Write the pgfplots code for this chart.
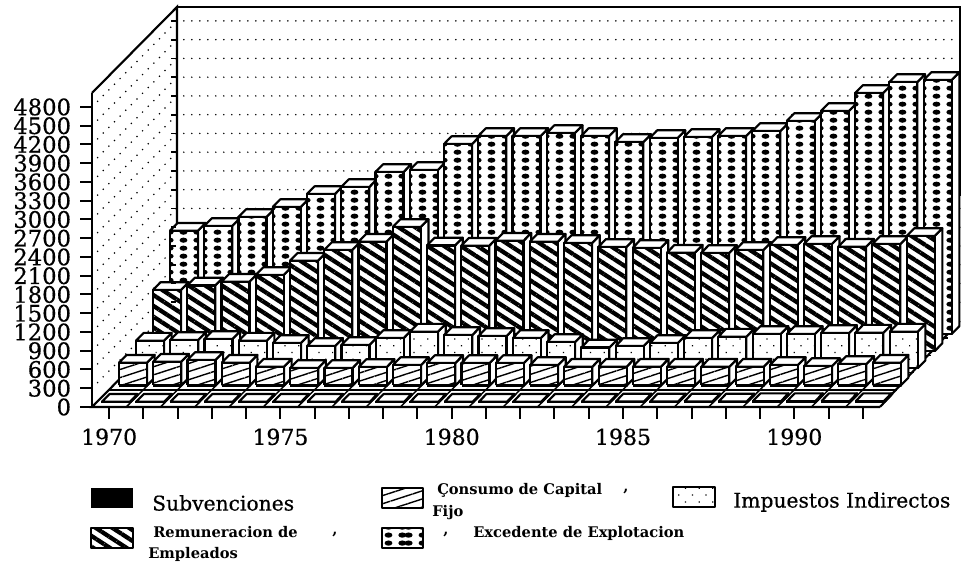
\documentclass[border=0pt]{standalone}
\usepackage{fontspec}
\usepackage{pgfplots}
\pgfplotsset{compat=1.18}
\usetikzlibrary{patterns,patterns.meta}
\newfontfamily\dser[FakeBold=0.5]{DejaVu Serif}
\setmainfont{DejaVu Serif}
% Excedente: three columns per bin, so every bar shows the same dots
\pgfdeclarepatternformonly{excedente}{\pgfqpoint{0pt}{0pt}}{\pgfqpoint{25.695pt}{6.2pt}}{\pgfqpoint{25.695pt}{6.2pt}}{%
  \foreach \cx in {-1.0,9.5,20.0,24.7}{%
    \pgfpathellipse{\pgfqpoint{\cx pt}{3.1pt}}{\pgfqpoint{3.0pt}{0pt}}{\pgfqpoint{0pt}{2.1pt}}\pgfusepath{fill}}%
}
\tikzset{
  fr/.style={fill=white,draw=black,line width=1.6pt,line join=round},
  frS/.style={fill=black,draw=black,line width=1.2pt},
  frC/.style={fr,postaction={pattern={Lines[angle=18,distance=5.8pt,line width=1.05pt]}}},
  frI/.style={fr,postaction={pattern={Dots[angle=45,distance=7.2pt,radius=0.65pt]}}},
  frR/.style={fr,postaction={pattern={Lines[angle=-33,distance=6.8pt,line width=3.2pt]}}},
  frE/.style={fr,postaction={pattern=excedente}},
  griddot/.style={black,line width=1.3pt,line cap=round,dash pattern=on 0pt off 6pt},
}
\newcommand\barrow[3]{% #1 row, #2 front style, #3 index/value
  \foreach \i/\v in {#3}{%
    \pgfmathsetmacro\xa{\i+0.166}\pgfmathsetmacro\xb{\i+0.984}%
    \pgfmathsetmacro\ya{#1+0.25}\pgfmathsetmacro\yb{#1+0.7}%
    \edef\tmp{%
      \noexpand\addplot3[fr,mark=none] coordinates {(\xb,\ya,0)(\xb,\yb,0)(\xb,\yb,\v)(\xb,\ya,\v)(\xb,\ya,0)};
      \noexpand\addplot3[fr,mark=none] coordinates {(\xa,\ya,\v)(\xb,\ya,\v)(\xb,\yb,\v)(\xa,\yb,\v)(\xa,\ya,\v)};
      \noexpand\addplot3[#2,mark=none] coordinates {(\xa,\ya,0)(\xb,\ya,0)(\xb,\ya,\v)(\xa,\ya,\v)(\xa,\ya,0)};
    }\tmp
  }%
}
\begin{document}
\begin{tikzpicture}
\begin{axis}[
  anchor=origin, at={(0pt,0pt)},
  x={(25.695pt,0pt)}, y={(12.75pt,12.9pt)}, z={(0pt,0.046875pt)},
  xmin=-0.3,xmax=23,ymin=0,ymax=5,zmin=-170,zmax=5024,
  clip=false,
  axis lines=left,
  axis line style={draw=none},
  ytick=\empty,
  xtick={0.5,1.5,2.5,3.5,4.5,5.5,6.5,7.5,8.5,9.5,10.5,11.5,12.5,13.5,14.5,15.5,16.5,17.5,18.5,19.5,20.5,21.5,22.5},
  xticklabels={1970,,,,,1975,,,,,1980,,,,,1985,,,,,1990,,},
  ztick={0,300,600,900,1200,1500,1800,2100,2400,2700,3000,3300,3600,3900,4200,4500,4800},
  major tick length=0pt,
  /pgf/number format/assume math mode=true,
  /pgf/number format/1000 sep={},
  zticklabel style={font=\dser\fontsize{17}{17}\selectfont,anchor=east,inner sep=0pt,xshift=-7.8pt},
  xticklabel style={font=\dser\fontsize{16.5}{16.5}\selectfont,anchor=north,inner sep=0pt,yshift=-8pt},
]
% floor edges
\addplot3[black,line width=1.6pt,mark=none] coordinates {(23,0,0)(0,0,0)(0,5,0)};
% back wall and left wall grid
\foreach \z in {300,600,900,1200,1500,1800,2100,2400,2700,3000,3300,3600,3900,4200,4500,4800}{%
  \edef\tmp{\noexpand\addplot3[griddot,mark=none] coordinates {(0.2,5,\z)(23,5,\z)};
            \noexpand\addplot3[griddot,mark=none] coordinates {(0,0,\z)(0,5,\z)};}\tmp
}
% walls
\addplot3[black,line width=1.6pt,mark=none] coordinates {(0,0,5024)(0,5,5024)(0,5,0)};
\addplot3[black,line width=1.6pt,mark=none] coordinates {(0,5,5024)(23,5,5024)};
\addplot3[black,line width=1.2pt,mark=none] coordinates {(22.85,5,5024)(22.85,5,2000)};
% floor
\addplot3[black,line width=1.6pt,mark=none] coordinates {(23,0,0)(22.85,5,0)};
\foreach \i in {1,...,22}{%
  \edef\tmp{\noexpand\addplot3[black,line width=1.1pt,mark=none] coordinates {(\i,0,0)(\i,5,0)};}\tmp
}
\foreach \k in {1,2,3,4}{%
  \edef\tmp{\noexpand\addplot3[black,line width=1.1pt,mark=none] coordinates {(0,\k,0)(23,\k,0)};}\tmp
}
% Excedente de Explotacion
\barrow{4}{frE}{0/1651,1/1726,2/1870,3/2030,4/2238,5/2350,6/2590,7/2622,8/3038,9/3166,10/3166,11/3214,12/3166,13/3070,14/3134,15/3150,16/3166,17/3246,18/3406,19/3566,20/3854,21/4030,22/4062}
% Remuneracion de Empleados
\barrow{3}{frR}{0/978,1/1050,2/1110,3/1218,4/1446,5/1618,6/1750,7/1986,8/1690,9/1686,10/1766,11/1750,12/1730,13/1666,14/1650,15/1574,16/1570,17/1618,18/1698,19/1714,20/1670,21/1714,22/1842}
% Impuestos Indirectos
\barrow{2}{frI}{0/442,1/453,2/469,3/442,4/405,5/357,6/373,7/485,8/586,9/533,10/517,11/485,12/421,13/333,14/357,15/405,16/485,17/506,18/549,19/549,20/565,21/570,22/586}
% Consumo de Capital Fijo
\barrow{1}{frC}{0/365,1/381,2/408,3/365,4/301,5/280,6/280,7/296,8/328,9/360,10/360,11/360,12/328,13/301,14/301,15/301,16/301,17/301,18/301,19/328,20/312,21/344,22/365}
% Subvenciones
\barrow{0}{frS}{0/15,1/15,2/15,3/15,4/15,5/15,6/15,7/15,8/15,9/15,10/15,11/15,12/15,13/15,14/15,15/20,16/20,17/20,18/20,19/25,20/25,21/25,22/25}
\end{axis}
% ticks and legend, in image pixels
\begin{scope}[shift={(-69pt,305.25pt)},x=0.75pt,y=-0.75pt]
\fill[black] (90.8,93) rectangle (93.2,408);
\foreach \n in {0,...,16}{\fill[black] (80,406-18.75*\n) rectangle (92,408-18.75*\n);}
\foreach \n in {1,...,16}{\fill[black] (171,320.2-18.75*\n) rectangle (176,321.8-18.75*\n);}
\foreach \n in {0,...,22}{\fill[black] (108.1+34.26*\n,407) rectangle (110.1+34.26*\n,419);}
\fill[black] (91,488) rectangle (133,508);
\draw[fr,frC] (382,488) rectangle (423,508);
\draw[fr,frI] (673,487) rectangle (715,507);
\draw[fr,frR] (91,528) rectangle (133,548);
\draw[fr,frE] (382,528) rectangle (423,548);
\def\big{\dser\fontsize{15.2}{15}\selectfont}
\def\sm{\bfseries\fontsize{11}{11}\selectfont}
\node[anchor=west,inner sep=0] at (152,503) {\big Subvenciones};
\node[anchor=west,inner sep=0] at (733,502) {\big Impuestos Indirectos};
\node[anchor=west,inner sep=0] at (437,490) {\sm Çonsumo de Capital};
\node[anchor=west,inner sep=0] at (432,513) {\sm Fijo};
\node[anchor=west,inner sep=0] at (153,532) {\sm Remuneracion de};
\node[anchor=west,inner sep=0] at (148,554) {\sm Empleados};
\node[anchor=west,inner sep=0] at (473,533) {\sm Excedente de Explotacion};
\node[anchor=west,inner sep=0] at (623,492) {\sm ,};
\node[anchor=west,inner sep=0] at (332,535) {\sm ,};
\node[anchor=west,inner sep=0] at (443,535) {\sm ,};
\pgfresetboundingbox
\path[use as bounding box] (0,0) rectangle (961,563);
\end{scope}
\end{tikzpicture}
\end{document}
